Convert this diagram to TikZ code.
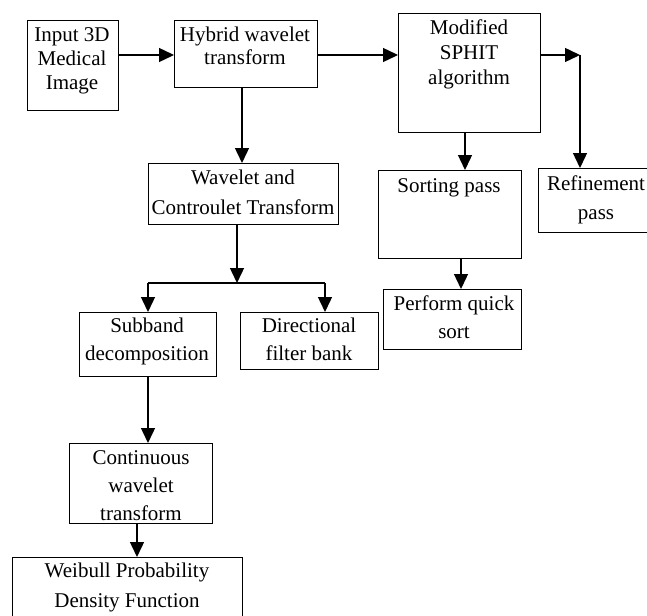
\documentclass[tikz,border=0pt]{standalone}
\usepackage{fontspec}
\setmainfont{Liberation Serif}
\usetikzlibrary{arrows.meta}
\begin{document}
\begin{tikzpicture}[x=1pt,y=-1pt,
 box/.style={draw, line width=1.4pt, anchor=north west, inner sep=0pt},
 txt/.style={anchor=base, align=center, inner sep=0pt, font=\fontsize{21}{#1}\selectfont},
 arr/.style={line width=1.4pt, -{Triangle[length=15pt,width=14pt]}},
 ln/.style={line width=1.4pt}]
\useasboundingbox (0,0) rectangle (647,615);
% boxes
\node[box, minimum width=91pt, minimum height=90pt] (inp) at (27,20) {};
\node[box, minimum width=143pt, minimum height=67pt] (hyb) at (174,20) {};
\node[box, minimum width=142pt, minimum height=119pt] (sph) at (398,13) {};
\node[box, minimum width=190pt, minimum height=61pt] (wav) at (148,163) {};
\node[box, minimum width=143pt, minimum height=88pt] (sor) at (378,170) {};
\node[box, minimum width=114pt, minimum height=64pt] (ref) at (538,168) {};
\node[box, minimum width=138pt, minimum height=60pt] (pqs) at (383,289) {};
\node[box, minimum width=137pt, minimum height=64pt] (sub) at (79,312) {};
\node[box, minimum width=138pt, minimum height=57pt] (dir) at (240,312) {};
\node[box, minimum width=143pt, minimum height=80pt] (con) at (69,443) {};
\node[box, minimum width=230pt, minimum height=70pt] (wei) at (12,557) {};
% texts (anchor = baseline of the last line)
\node[txt=24] (inpT) at (72,90) {Input 3D\\Medical\\Image};
\node[txt=23] (hybT) at (245,65) {Hybrid wavelet\\transform};
\node[txt=25.5] (sphT) at (469,85) {Modified\\SPHIT\\algorithm};
\node[txt=30] (wavT) at (243,214) {Wavelet and\\Controulet Transform};
\node[txt=29] (sorT) at (449,192) {Sorting pass};
\node[txt=29] (refT) at (596,219) {Refinement\\pass};
\node[txt=28] (pqsT) at (454,338) {Perform quick\\sort};
\node[txt=28] (subT) at (147,360) {Subband\\decomposition};
\node[txt=28] (dirT) at (309,360) {Directional\\filter bank};
\node[txt=28] (conT) at (141,520) {Continuous\\wavelet\\transform};
\node[txt=30] (weiT) at (127,607) {Weibull Probability\\Density Function};
% junctions
\coordinate (jr) at (580,55);
\coordinate (jb) at (237,283);
\coordinate (jl) at (148,283);
\coordinate (jd) at (325,283);
\coordinate (js) at (465,0);
\coordinate (jq) at (461,0);
\coordinate (jc) at (137,0);
% connectors
\draw[arr] (inp.east |- jr) -- (hyb.west |- jr);
\draw[arr] (hyb.east |- jr) -- (sph.west |- jr);
\draw[arr] (sph.east |- jr) -- (jr);
\draw[arr] (jr) -- (jr |- ref.north);
\draw[arr] (hyb.south -| 242,0) -- (wav.north -| 242,0);
\draw[arr] (wav.south -| jb) -- (jb);
\draw[ln] (jl) -- (jd);
\draw[arr] (jl) -- (jl |- sub.north);
\draw[arr] (jd) -- (jd |- dir.north);
\draw[arr] (sph.south -| js) -- (sor.north -| js);
\draw[arr] (sor.south -| jq) -- (pqs.north -| jq);
\draw[arr] (sub.south -| jl) -- (con.north -| jl);
\draw[arr] (con.south -| jc) -- (wei.north -| jc);
\end{tikzpicture}
\end{document}
